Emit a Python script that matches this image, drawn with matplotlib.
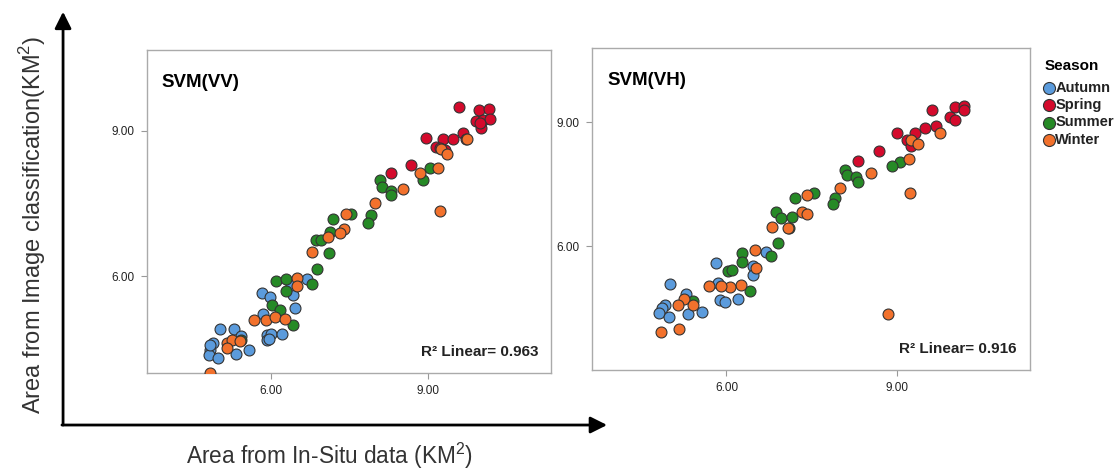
import matplotlib.pyplot as plt

plt.rcParams['font.family'] = ['Liberation Sans', 'DejaVu Sans']
plt.rcParams['mathtext.fontset'] = 'custom'
plt.rcParams['mathtext.rm'] = 'Liberation Sans'
plt.rcParams['mathtext.bf'] = 'Liberation Sans:bold'

seasons = ['Autumn', 'Spring', 'Summer', 'Winter']
colors = {'Autumn': '#5b9bdc', 'Spring': '#d40a2c', 'Summer': '#268a26', 'Winter': '#f2712c'}

# SVM(VV): (in-situ area, classified area) per season
vv_autumn_x = [6.68, 6.41, 5.83, 5.98, 6.46, 5.84, 5.03, 5.29, 5.42, 4.90, 4.84, 4.82, 4.98, 5.33, 5.58,
               5.92, 6.00, 5.92, 5.97, 6.20, 6.39, 4.84]
vv_autumn_y = [5.95, 5.62, 5.66, 5.56, 5.35, 5.21, 4.90, 4.91, 4.77, 4.61, 4.47, 4.37, 4.30, 4.39, 4.47,
               4.78, 4.80, 4.69, 4.71, 4.80, 5.81, 4.58]
vv_spring_x = [9.59, 9.97, 10.16, 9.92, 10.05, 10.18, 10.02, 10.00, 9.67, 9.73, 8.97, 9.29, 9.48, 9.16,
               9.22, 9.32, 8.67, 8.30]
vv_spring_y = [9.50, 9.43, 9.45, 9.21, 9.23, 9.25, 9.05, 9.17, 8.96, 8.84, 8.86, 8.83, 8.84, 8.67,
               8.64, 8.60, 8.29, 8.12]
vv_summer_x = [9.03, 8.91, 8.09, 8.12, 8.29, 8.30, 7.52, 7.91, 7.86, 7.18, 7.13, 6.86, 6.95, 7.10, 6.88,
               6.09, 6.28, 6.28, 6.79, 6.01, 6.17, 6.41, 5.43]
vv_summer_y = [8.24, 7.98, 7.98, 7.84, 7.76, 7.67, 7.29, 7.26, 7.10, 7.17, 6.91, 6.74, 6.74, 6.47, 6.14,
               5.90, 5.95, 5.70, 5.83, 5.40, 5.30, 4.99, 4.68]
vv_winter_x = [9.74, 9.25, 9.37, 9.19, 8.84, 8.52, 7.98, 9.22, 7.43, 7.40, 7.32, 7.09, 6.79, 6.50, 6.50,
               5.68, 5.90, 6.07, 6.26, 5.15, 5.25, 5.41, 5.15, 4.84]
vv_winter_y = [8.83, 8.62, 8.53, 8.24, 8.13, 7.80, 7.52, 7.35, 7.29, 6.98, 6.89, 6.81, 6.50, 5.97, 5.79,
               5.09, 5.09, 5.15, 5.11, 4.61, 4.68, 4.66, 4.51, 4.01]

# SVM(VH)
vh_autumn_x = [6.69, 5.82, 6.47, 6.46, 5.01, 5.28, 4.91, 4.86, 4.81, 4.99, 5.32, 5.57, 5.85, 5.88, 5.97, 6.21]
vh_autumn_y = [5.86, 5.60, 5.52, 5.30, 5.09, 4.85, 4.57, 4.49, 4.38, 4.29, 4.35, 4.41, 5.11, 4.69, 4.65, 4.73]
vh_spring_x = [9.62, 10.02, 10.19, 10.19, 9.94, 10.02, 9.69, 9.50, 9.32, 9.00, 9.18, 9.26, 8.68, 8.31]
vh_spring_y = [9.30, 9.38, 9.40, 9.30, 9.14, 9.06, 8.91, 8.85, 8.75, 8.73, 8.57, 8.43, 8.30, 8.07]
vh_summer_x = [9.06, 8.91, 8.09, 8.13, 8.29, 8.32, 7.54, 7.21, 7.91, 7.87, 6.88, 6.97, 7.15, 7.11, 6.90,
               6.79, 6.28, 6.28, 6.02, 6.10, 6.42, 5.41]
vh_summer_y = [8.05, 7.94, 7.84, 7.72, 7.68, 7.56, 7.28, 7.16, 7.16, 7.02, 6.83, 6.67, 6.71, 6.43, 6.08,
               5.76, 5.84, 5.62, 5.40, 5.43, 4.92, 4.67]
vh_winter_x = [9.76, 9.26, 9.38, 9.21, 8.55, 8.00, 9.24, 7.42, 7.34, 7.42, 7.09, 6.80, 6.50, 6.52, 6.26,
               6.07, 5.90, 5.69, 5.26, 5.15, 5.41, 4.84, 5.16, 8.85]
vh_winter_y = [8.75, 8.56, 8.47, 8.12, 7.78, 7.42, 7.29, 7.24, 6.83, 6.79, 6.45, 6.47, 5.90, 5.48, 5.05,
               5.01, 5.03, 5.03, 4.73, 4.57, 4.57, 3.92, 3.99, 4.35]

r2_vv = 0.963
r2_vh = 0.916

panels = [
    ('SVM(VV)', r2_vv, [0.1315, 0.2064, 0.3614, 0.6872], (4.0, 10.67),
     {'Autumn': (vv_autumn_x, vv_autumn_y), 'Spring': (vv_spring_x, vv_spring_y),
      'Summer': (vv_summer_x, vv_summer_y), 'Winter': (vv_winter_x, vv_winter_y)}),
    ('SVM(VH)', r2_vh, [0.5295, 0.2128, 0.3918, 0.6851], (3.0, 10.8),
     {'Autumn': (vh_autumn_x, vh_autumn_y), 'Spring': (vh_spring_x, vh_spring_y),
      'Summer': (vh_summer_x, vh_summer_y), 'Winter': (vh_winter_x, vh_winter_y)}),
]

fig = plt.figure(figsize=(11.18, 4.70), dpi=100)

axes = []
for title, r2, rect, ylim, data in panels:
    ax = fig.add_axes(rect)
    for s in seasons:
        x, y = data[s]
        ax.scatter(x, y, s=62, color=colors[s], edgecolors='#333333', linewidths=0.8, label=s, zorder=3)
    ax.set_xlim(3.63, 11.35)
    ax.set_ylim(*ylim)
    ax.set_xticks([6, 9])
    ax.set_yticks([6, 9])
    ax.set_xticklabels(['6.00', '9.00'])
    ax.set_yticklabels(['6.00', '9.00'])
    ax.tick_params(direction='out', length=4, width=0.8, color='#999999', labelsize=8.5,
                   labelcolor='#222222', pad=5)
    for sp in ax.spines.values():
        sp.set_color('#aaaaaa')
        sp.set_linewidth(1.0)
    ax.text(0.035, 0.9, title, transform=ax.transAxes, fontsize=13.5, fontweight='bold', va='center')
    ax.text(0.97, 0.065, f'R² Linear= {r2:.3f}', transform=ax.transAxes, fontsize=11,
            fontweight='bold', ha='right', va='center', color='#222222')
    axes.append(ax)

# season legend to the right of the second panel
handles, labels = axes[1].get_legend_handles_labels()
leg = fig.legend(handles, labels, title='Season', loc='upper left', bbox_to_anchor=(0.9347, 0.875),
                 frameon=False, fontsize=10.5, title_fontsize=11, handletextpad=0.1,
                 labelspacing=0.22, handlelength=0.6, borderaxespad=0, borderpad=0,
                 markerscale=1.1)
leg.get_title().set_fontweight('bold')
leg._legend_box.align = 'left'
leg._legend_box.sep = 6
for t in leg.get_texts():
    t.set_fontweight('bold')
    t.set_color('#222222')

# big axis arrows
arrow = dict(arrowstyle='-|>', lw=2, color='black', mutation_scale=25, shrinkA=0, shrinkB=0)
plt.annotate('', xy=(0.0564, 0.975), xytext=(0.0564, 0.0957), xycoords='figure fraction',
             arrowprops=arrow)
plt.annotate('', xy=(0.543, 0.0957), xytext=(0.0554, 0.0957), xycoords='figure fraction',
             arrowprops=arrow)

fig.text(0.029, 0.521, 'Area from Image classification(KM$^2$)', rotation=90, fontsize=17,
         ha='center', va='center', color='#333333')
fig.text(0.295, 0.03, 'Area from In-Situ data (KM$^2$)', fontsize=16.3, ha='center', va='center',
         color='#333333')

plt.savefig('out.png', dpi=100)
